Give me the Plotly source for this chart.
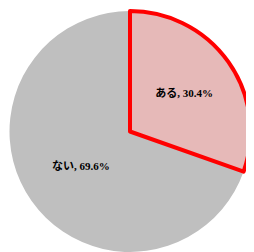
import plotly.graph_objects as go

labels = ["ない", "ある"]
values = [69.6, 30.4]
colors = ["#BFBFBF", "#E6B9B8"]
line_colors = ["rgba(0,0,0,0)", "#FF0000"]
line_widths = [0, 4]

W, H = 246, 244

fig = go.Figure(go.Pie(
    labels=labels,
    values=values,
    sort=False,
    direction="clockwise",
    rotation=30.4 * 3.6,
    marker=dict(colors=colors, line=dict(color=line_colors, width=line_widths)),
    texttemplate="<b>%{label}, %{percent:.1%}</b>",
    textposition="inside",
    insidetextorientation="horizontal",
    textfont=dict(family="'Liberation Serif', 'Noto Sans CJK JP', serif", size=11, color="#000000"),
    hoverinfo="skip",
    domain=dict(x=[1/W, 243/W], y=[0, 241/H]),
    showlegend=False,
))
fig.update_layout(
    width=W, height=H,
    margin=dict(l=0, r=0, t=0, b=0),
    paper_bgcolor="white",
    plot_bgcolor="white",
)
fig.write_html("out.html")
